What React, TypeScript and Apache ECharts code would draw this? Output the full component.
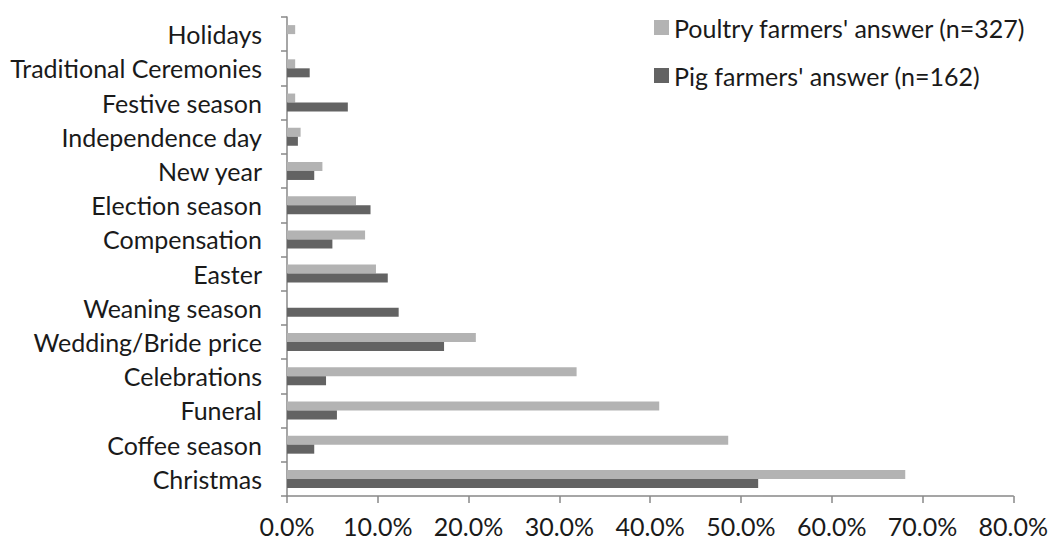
import React, { useEffect, useRef } from "react";
import * as echarts from "echarts";

// Occasions, listed bottom to top along the category axis
const occasions = [
  "Christmas",
  "Coffee season",
  "Funeral",
  "Celebrations",
  "Wedding/Bride price",
  "Weaning season",
  "Easter",
  "Compensation",
  "Election season",
  "New year",
  "Independence day",
  "Festive season",
  "Traditional Ceremonies",
  "Holidays",
];

// Share of respondents (%) naming each occasion
const poultryShare = [68.1, 48.6, 41.0, 31.9, 20.8, 0, 9.8, 8.6, 7.6, 3.9, 1.5, 0.9, 0.9, 0.9];
const pigShare = [51.9, 3.0, 5.5, 4.3, 17.3, 12.3, 11.1, 5.0, 9.2, 3.0, 1.2, 6.7, 2.5, 0];

const poultryName = "Poultry farmers' answer (n=327)";
const pigName = "Pig farmers' answer (n=162)";

const xTicks = [0, 10, 20, 30, 40, 50, 60, 70, 80];

const FONT = "Lato, 'Open Sans', sans-serif";

export default function App() {
  const ref = useRef<HTMLDivElement>(null);

  useEffect(() => {
    if (!ref.current) return;
    const chart = echarts.init(ref.current, undefined, { renderer: "svg" });
    chart.setOption({
      animation: false,
      backgroundColor: "#ffffff",
      textStyle: { fontFamily: FONT },
      legend: {
        data: [poultryName, pigName],
        orient: "vertical",
        left: 654,
        top: 15,
        padding: 0,
        itemWidth: 15,
        itemHeight: 15,
        itemGap: 23,
        icon: "rect",
        textStyle: { fontSize: 25, lineHeight: 25, color: "#1a1a1a", fontFamily: FONT },
      },
      grid: { left: 287, right: 36, top: 17, bottom: 44, containLabel: false },
      xAxis: {
        type: "value",
        min: xTicks[0],
        max: xTicks[xTicks.length - 1],
        interval: 10,
        splitLine: { show: false },
        axisLine: { show: true, lineStyle: { color: "#888888", width: 1.5 } },
        axisTick: { show: true, length: 7, lineStyle: { color: "#888888", width: 1.5 } },
        axisLabel: {
          fontSize: 25,
          lineHeight: 24,
          color: "#1a1a1a",
          margin: 18,
          fontFamily: FONT,
          formatter: (v: number) => v.toFixed(1) + "%",
        },
      },
      yAxis: {
        type: "category",
        data: occasions,
        axisLine: { show: true, lineStyle: { color: "#888888", width: 1.5 } },
        axisTick: { show: true, length: 6, lineStyle: { color: "#888888", width: 1.5 } },
        axisLabel: { fontSize: 25, color: "#1a1a1a", margin: 25, fontFamily: FONT },
      },
      series: [
        {
          name: poultryName,
          type: "bar",
          data: poultryShare,
          itemStyle: { color: "#b3b3b3" },
          barWidth: 9,
          barGap: "0%",
        },
        {
          name: pigName,
          type: "bar",
          data: pigShare,
          itemStyle: { color: "#636363" },
          barWidth: 9,
          barGap: "0%",
        },
      ],
    });
    return () => chart.dispose();
  }, []);

  return (
    <div
      ref={ref}
      style={{ position: "fixed", left: 0, top: 0, width: 1051, height: 540 }}
    />
  );
}
